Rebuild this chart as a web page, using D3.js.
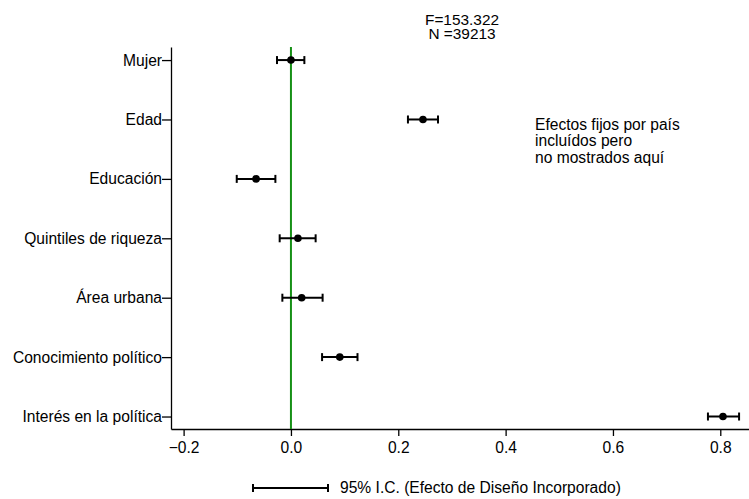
<!DOCTYPE html>
<html>
<head>
<meta charset="utf-8">
<script src="https://cdn.jsdelivr.net/npm/d3@7"></script>
<style>
    body { margin: 0; background: #fff; }
    svg { font-family: "Liberation Sans", Arial, sans-serif; }
</style>
</head>
<body>
<svg id="chart"></svg>
<script>
// Coefficient estimates with 95% confidence intervals
const categories = ["Mujer", "Edad", "Educación", "Quintiles de riqueza", "Área urbana", "Conocimiento político", "Interés en la política"];
const estimates = [0.000, 0.246, -0.065, 0.013, 0.020, 0.091, 0.805];
const lowerCI = [-0.026, 0.218, -0.101, -0.021, -0.016, 0.058, 0.777];
const upperCI = [0.025, 0.274, -0.029, 0.046, 0.059, 0.124, 0.835];
const xTicks = [-0.2, 0.0, 0.2, 0.4, 0.6, 0.8];

const statLines = ["F=153.322", "N =39213"];
const noteLines = ["Efectos fijos por país", "incluídos pero", "no mostrados aquí"];
const legendLabel = "95% I.C. (Efecto de Diseño Incorporado)";

const width = 749;
const height = 499;
const margin = { top: 47, right: 0, bottom: 70, left: 171 };
const fontSize = 15.6;

const svg = d3.select("#chart")
    .attr("width", width)
    .attr("height", height);

const rows = categories.map((c, i) => ({
    name: c, index: i, est: estimates[i], lo: lowerCI[i], hi: upperCI[i]
}));

// Scales
const xScale = d3.scaleLinear()
    .domain([-0.2235, 0.8535])
    .range([margin.left, width - margin.right]);

const yScale = d3.scaleLinear()
    .domain([-0.22, categories.length - 1 + 0.21])
    .range([margin.top, height - margin.bottom]);

// Y axis
const yAxis = svg.append("g")
    .attr("transform", `translate(${margin.left},0)`)
    .call(d3.axisLeft(yScale)
        .tickValues(d3.range(categories.length))
        .tickFormat(i => categories[i])
        .tickSize(9)
        .tickSizeOuter(0)
        .tickPadding(0));
yAxis.selectAll("text").style("font-size", fontSize + "px").attr("fill", "#000");
yAxis.selectAll("line, path").attr("stroke", "#000").attr("stroke-width", 1.3);

// X axis
const xAxis = svg.append("g")
    .attr("transform", `translate(0,${height - margin.bottom})`)
    .call(d3.axisBottom(xScale)
        .tickValues(xTicks)
        .tickFormat(d3.format(".1f"))
        .tickSize(7)
        .tickSizeOuter(0)
        .tickPadding(6));
xAxis.selectAll("text").style("font-size", fontSize + "px").attr("fill", "#000");
xAxis.selectAll("line, path").attr("stroke", "#000").attr("stroke-width", 1.3);

// Zero reference line
svg.append("line")
    .attr("x1", xScale(0)).attr("x2", xScale(0))
    .attr("y1", margin.top).attr("y2", height - margin.bottom)
    .attr("stroke", "#169016")
    .attr("stroke-width", 2);

// Confidence intervals
const bars = svg.selectAll(".ci")
    .data(rows)
    .enter()
    .append("g")
    .attr("class", "ci");

bars.append("line")
    .attr("x1", d => xScale(d.lo)).attr("x2", d => xScale(d.hi))
    .attr("y1", d => yScale(d.index)).attr("y2", d => yScale(d.index))
    .attr("stroke", "#000").attr("stroke-width", 2);

bars.selectAll(".cap")
    .data(d => [d.lo, d.hi].map(v => ({ v, i: d.index })))
    .enter()
    .append("line")
    .attr("x1", d => xScale(d.v)).attr("x2", d => xScale(d.v))
    .attr("y1", d => yScale(d.i) - 4).attr("y2", d => yScale(d.i) + 4)
    .attr("stroke", "#000").attr("stroke-width", 2);

bars.append("circle")
    .attr("cx", d => xScale(d.est))
    .attr("cy", d => yScale(d.index))
    .attr("r", 3.8)
    .attr("fill", "#000");

// Model statistics (two separate lines, tight spacing as in the original)
svg.selectAll(".stat")
    .data(statLines)
    .enter()
    .append("text")
    .attr("class", "stat")
    .attr("x", 462)
    .attr("y", (d, i) => 24.5 + i * 14.7)
    .attr("text-anchor", "middle")
    .style("font-size", "15.4px")
    .text(d => d);

// Note
svg.append("text")
    .attr("x", 535)
    .attr("y", 129.5)
    .style("font-size", fontSize + "px")
    .selectAll("tspan")
    .data(noteLines)
    .enter()
    .append("tspan")
    .attr("x", 535)
    .attr("dy", (d, i) => i === 0 ? 0 : 16.5)
    .text(d => d);

// Legend
const legend = svg.append("g").attr("transform", "translate(253,488)");
legend.append("line").attr("x1", 0).attr("x2", 75).attr("y1", 0).attr("y2", 0)
    .attr("stroke", "#000").attr("stroke-width", 2);
[0, 75].forEach(x => legend.append("line")
    .attr("x1", x).attr("x2", x).attr("y1", -4).attr("y2", 4)
    .attr("stroke", "#000").attr("stroke-width", 2));
legend.append("text")
    .attr("x", 87)
    .attr("dy", "0.35em")
    .style("font-size", fontSize + "px")
    .text(legendLabel);
</script>
</body>
</html>
